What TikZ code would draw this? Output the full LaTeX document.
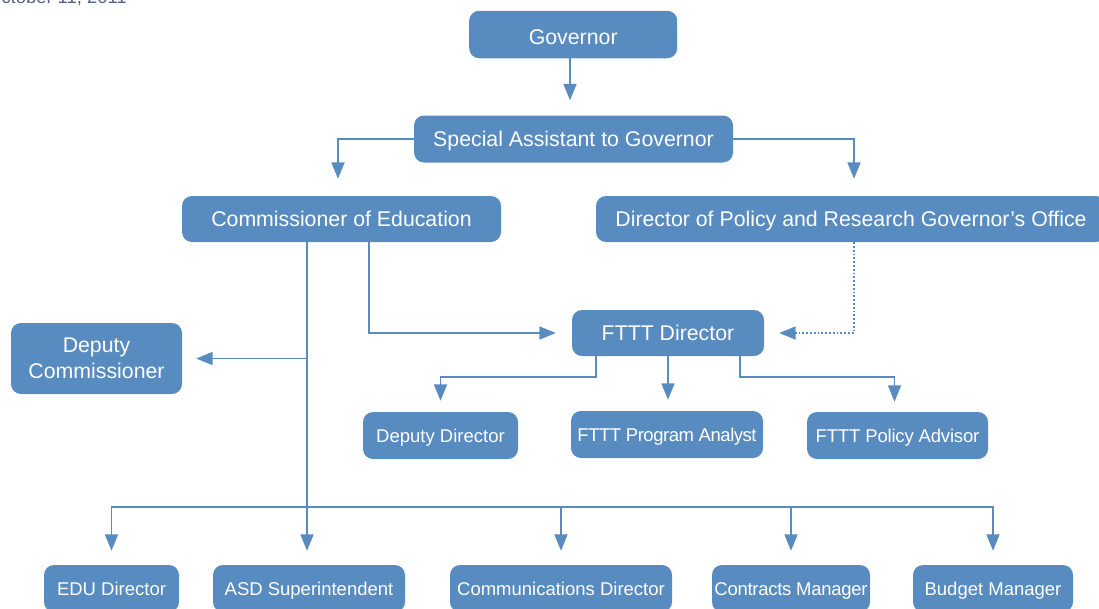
\documentclass[tikz,border=0pt]{standalone}
\usepackage{fontspec}
\setmainfont{Liberation Sans}
\usetikzlibrary{arrows.meta}
\definecolor{boxblue}{RGB}{88,140,193}
\definecolor{dategray}{RGB}{85,98,128}
\tikzset{
  box/.style={fill=boxblue, draw=none, rounded corners=10pt, text=white, inner sep=0pt, anchor=center},
  bigbox/.style={box, font=\fontsize{21.3}{26}\selectfont},
  bigone/.style={bigbox, text height=19.8pt, text depth=4.5pt},
  smallbox/.style={box, font=\fontsize{18.5}{22}\selectfont, text height=17.2pt, text depth=4pt},
  line/.style={draw=boxblue, line width=1.8pt},
  arr/.style={line, -{Triangle[length=16.5pt,width=13pt]}},
  dotarr/.style={arr, dotted},
}
\begin{document}
\begin{tikzpicture}[x=1pt,y=-1pt]
\useasboundingbox (0,0) rectangle (1099,608);
% date (cut at top)
\node[anchor=base west, inner sep=0pt, text=dategray, font=\fontsize{18.4}{22}\selectfont] (date) at (-13,3) {October 11, 2011};
% boxes
\node[bigbox, minimum width=208pt, minimum height=47.5pt, text height=24.4pt, text depth=4.5pt] (gov) at (573.2,34.5) {Governor};
\node[bigone, minimum width=319pt, minimum height=47pt] (sa) at (573.5,139) {Special Assistant to Governor};
\node[bigone, minimum width=319pt, minimum height=46pt] (comm) at (341.5,219) {Commissioner of Education};
\node[bigone, minimum width=510pt, minimum height=46pt] (dirpol) at (851,219) {Director of Policy and Research Governor’s Office};
\node[bigone, minimum width=192pt, minimum height=46pt] (fttt) at (668,333) {FTTT Director};
\node[bigbox, minimum width=171pt, minimum height=71pt, align=center] (dc) at (96.5,358.5) {Deputy\\Commissioner};
\node[smallbox, minimum width=155pt, minimum height=47pt] (dd) at (440.5,435.5) {Deputy Director};
\node[smallbox, minimum width=192pt, minimum height=47pt] (fpan) at (667,434.5) {\addfontfeatures{LetterSpace=-2.5}FTTT Program Analyst};
\node[smallbox, minimum width=181pt, minimum height=47pt] (fpad) at (897.5,435.5) {\addfontfeatures{LetterSpace=-1}FTTT Policy Advisor};
\node[smallbox, minimum width=135pt, minimum height=47pt] (edu) at (111.5,588.5) {EDU Director};
\node[smallbox, minimum width=192pt, minimum height=47pt] (asd) at (309,588.5) {ASD Superintendent};
\node[smallbox, minimum width=222pt, minimum height=47pt] (cd) at (561,588.5) {Communications Director};
\node[smallbox, minimum width=158pt, minimum height=47pt] (cm) at (791,588.5) {\addfontfeatures{LetterSpace=-1.5}Contracts Manager};
\node[smallbox, minimum width=160pt, minimum height=47pt] (bm) at (993,588.5) {Budget Manager};
% helper coordinates
\coordinate (busY) at (0,507);
\coordinate (fY) at (0,377);
\coordinate (trunk) at ([xshift=-34.5pt]comm.south);
\coordinate (cbr) at ([xshift=27.5pt]comm.south);
\coordinate (fl) at ([xshift=-72pt]fttt.south);
\coordinate (fr) at ([xshift=72pt]fttt.south);
% connectors
\draw[arr, shorten >=15pt] ([xshift=-3.2pt]gov.south) -- ([xshift=-3.2pt]gov.south |- sa.north);
\draw[arr, shorten >=17pt] (sa.west) -| ([xshift=-3.5pt]comm.north);
\draw[arr, shorten >=17pt] (sa.east) -| ([xshift=3pt]dirpol.north);
\draw[arr, shorten >=16pt] (cbr) |- (fttt.west);
\draw[dotarr, shorten >=15pt] ([xshift=3pt]dirpol.south) |- (fttt.east);
\draw[arr, shorten >=14pt] (trunk) -- (trunk |- asd.north);
\draw[arr, shorten >=14pt] (trunk |- dc.east) -- (dc.east);
\draw[arr, shorten >=14pt] (trunk |- busY) -| (edu.north);
\draw[arr, shorten >=14pt] (trunk |- busY) -| (bm.north);
\draw[arr, shorten >=14pt] (busY -| cd.north) -- (cd.north);
\draw[arr, shorten >=14pt] (busY -| cm.north) -- (cm.north);
\draw[arr, shorten >=11pt] (fl) -- (fl |- fY) -| (dd.north);
\draw[arr, shorten >=11pt] (fttt.south) -- (fttt.south |- fpan.north);
\draw[arr, shorten >=10pt] (fr) -- (fr |- fY) -| ([xshift=-3pt]fpad.north);
\end{tikzpicture}
\end{document}
